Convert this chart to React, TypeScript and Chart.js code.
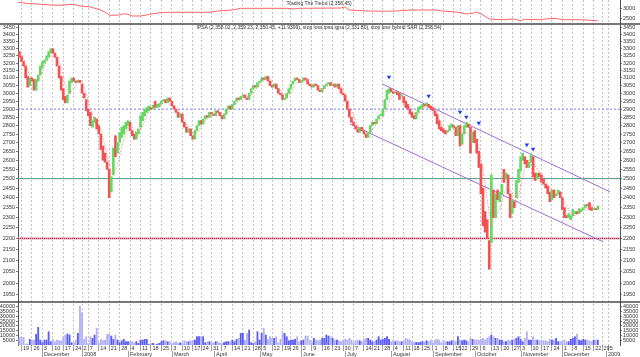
import React, { useEffect, useRef } from 'react';
import { Chart, registerables } from 'chart.js';
Chart.register(...registerables);

const FONT = '"Liberation Sans", Arial, sans-serif';

// ---- calendar (trading days) ----
const startDate = '2007-11-16';
const endDate = '2009-01-09';
const holidays = ['2007-12-25', '2007-12-31', '2008-01-01', '2008-03-21', '2008-05-01', '2008-05-21', '2008-07-16', '2008-08-15', '2008-09-18', '2008-09-19', '2008-10-31', '2008-12-25', '2008-12-31', '2009-01-01'];
const monthNames = ['January', 'February', 'March', 'April', 'May', 'June', 'July', 'August', 'September', 'October', 'November', 'December'];

// ---- price data (daily open / close) ----
const opens = [
  3280, 3250, 3210, 3180, 3110, 3050, 3100, 3090, 3020, 3080,
  3120, 3170, 3200, 3220, 3240, 3270, 3300, 3270, 3240, 3180,
  3110, 3030, 2980, 2940, 3000, 3070, 3100, 3080, 3070, 3085,
  3060, 3000, 2960, 2900, 2880, 2790, 2820, 2840, 2800, 2750,
  2680, 2640, 2590, 2550, 2430, 2520, 2740, 2640, 2700, 2730,
  2750, 2780, 2800, 2820, 2770, 2750, 2720, 2750, 2790, 2830,
  2860, 2880, 2890, 2910, 2900, 2950, 2910, 2915, 2935, 2950,
  2960, 2940, 2970, 2950, 2920, 2900, 2880, 2850, 2870, 2820,
  2790, 2760, 2780, 2740, 2720, 2770, 2800, 2830, 2810, 2840,
  2860, 2850, 2880, 2870, 2860, 2890, 2880, 2860, 2840, 2870,
  2900, 2920, 2900, 2930, 2950, 2970, 2960, 2980, 2990, 2970,
  2960, 3000, 3030, 3050, 3040, 3070, 3080, 3100, 3090, 3110,
  3080, 3050, 3040, 3060, 3030, 3000, 2990, 2960, 2970, 3000,
  3030, 3060, 3080, 3100, 3090, 3070, 3080, 3100, 3090, 3060,
  3050, 3040, 3060, 3050, 3020, 3010, 3030, 3050, 3060, 3070,
  3050, 3060, 3040, 3060, 3030, 3000, 2990, 2950, 2900, 2850,
  2820, 2800, 2780, 2760, 2790, 2770, 2750, 2730, 2760, 2800,
  2820, 2810, 2840, 2860, 2860, 2900, 2960, 3000, 3030, 3010,
  3000, 3010, 3000, 2980, 2980, 2950, 2930, 2900, 2880, 2860,
  2840, 2880, 2900, 2910, 2930, 2920, 2930, 2920, 2910, 2890,
  2870, 2830, 2790, 2780, 2770, 2760, 2770, 2790, 2800, 2790,
  2740, 2800, 2690, 2750, 2790, 2810, 2790, 2700, 2770, 2720,
  2650, 2580, 2450, 2330, 2290, 2190, 2180, 2440, 2300, 2440,
  2380, 2420, 2550, 2500, 2520, 2420, 2320, 2380, 2400, 2480,
  2540, 2600, 2620, 2600, 2560, 2590, 2620, 2530, 2500, 2530,
  2520, 2500, 2470, 2460, 2430, 2390, 2440, 2410, 2420, 2430,
  2400, 2350, 2310, 2300, 2290, 2310, 2320, 2330, 2320, 2330,
  2340, 2350, 2365, 2375, 2350, 2340, 2345, 2340
];
const closes = [
  3240, 3210, 3180, 3100, 3040, 3100, 3080, 3020, 3090, 3120,
  3180, 3210, 3220, 3250, 3280, 3300, 3270, 3240, 3180, 3100,
  3020, 2960, 2940, 2990, 3080, 3100, 3080, 3070, 3085, 3070,
  3000, 2970, 2890, 2860, 2800, 2830, 2850, 2780, 2750, 2660,
  2600, 2590, 2550, 2400, 2510, 2670, 2620, 2700, 2760, 2790,
  2800, 2820, 2830, 2770, 2740, 2720, 2760, 2780, 2860, 2880,
  2900, 2910, 2920, 2900, 2925, 2910, 2930, 2935, 2950, 2960,
  2940, 2970, 2950, 2920, 2900, 2880, 2850, 2870, 2820, 2790,
  2760, 2780, 2740, 2720, 2770, 2800, 2830, 2810, 2840, 2860,
  2850, 2880, 2870, 2860, 2890, 2880, 2860, 2840, 2870, 2900,
  2920, 2900, 2930, 2950, 2970, 2960, 2980, 2990, 2970, 2960,
  3000, 3030, 3050, 3040, 3070, 3080, 3100, 3090, 3110, 3080,
  3050, 3040, 3060, 3030, 3000, 2990, 2960, 2970, 3000, 3030,
  3060, 3080, 3100, 3090, 3070, 3080, 3100, 3090, 3060, 3050,
  3040, 3060, 3050, 3020, 3010, 3030, 3050, 3060, 3070, 3050,
  3060, 3040, 3060, 3030, 3000, 2990, 2950, 2900, 2850, 2820,
  2800, 2780, 2760, 2790, 2770, 2750, 2730, 2760, 2800, 2820,
  2810, 2840, 2860, 2870, 2900, 2960, 3020, 3030, 3010, 3000,
  3010, 2990, 2960, 2990, 2940, 2910, 2900, 2870, 2850, 2840,
  2880, 2910, 2920, 2930, 2920, 2940, 2910, 2900, 2890, 2860,
  2810, 2780, 2770, 2760, 2750, 2770, 2800, 2810, 2790, 2740,
  2800, 2680, 2750, 2800, 2820, 2790, 2640, 2760, 2700, 2640,
  2560, 2420, 2260, 2230, 2200, 2060, 2520, 2300, 2420, 2390,
  2430, 2470, 2480, 2530, 2420, 2300, 2390, 2350, 2490, 2550,
  2620, 2640, 2580, 2560, 2590, 2630, 2510, 2490, 2530, 2510,
  2480, 2470, 2450, 2420, 2380, 2440, 2400, 2420, 2440, 2400,
  2340, 2300, 2300, 2320, 2310, 2340, 2330, 2320, 2345, 2340,
  2350, 2365, 2360, 2340, 2335, 2345, 2340, 2358
];
const volumes = [
  8000, 8000, 8000, 1000, 1000, 5900, 5200, 5200, 11100, 18400,
  5200, 2400, 5200, 5200, 13900, 3500, 5900, 3500, 5200, 4500,
  4500, 8700, 10400, 11500, 10400, 2400, 2400, 5200, 12200, 40700,
  33700, 5900, 8700, 1700, 8700, 7000, 10400, 17400, 2400, 5900,
  4500, 5200, 11100, 11100, 9400, 5900, 10400, 5200, 2400, 4500,
  5900, 3500, 3500, 3500, 3500, 2400, 3500, 1700, 5200, 5200,
  5900, 5900, 500, 1700, 1700, 500, 1000, 1700, 3500, 4500,
  4500, 3500, 3500, 1700, 2400, 3500, 1700, 2400, 2400, 4500,
  3500, 3500, 4500, 4500, 5200, 8700, 8700, 8700, 8700, 2400,
  3500, 3500, 2400, 2400, 3500, 3500, 2400, 1700, 2400, 3500,
  3500, 3500, 5200, 3500, 5900, 7000, 12200, 12200, 5200, 12200,
  15700, 2400, 1700, 3500, 13900, 5200, 12200, 17400, 10400, 5900,
  8700, 7000, 7000, 8700, 2400, 5900, 13900, 12200, 8700, 4500,
  5200, 5200, 5900, 8700, 3500, 4500, 5200, 9400, 9400, 5200,
  3500, 7000, 5200, 4500, 5200, 7000, 7000, 10400, 9400, 8700,
  7000, 5200, 5200, 4500, 3500, 5200, 5900, 5200, 7000, 5200,
  2400, 4500, 5200, 4500, 3500, 5900, 7000, 7000, 5200, 3500,
  3500, 5200, 8700, 5200, 5900, 7000, 8700, 5900, 3500, 5200,
  3500, 4500, 3500, 3500, 4500, 7000, 5900, 5200, 3500, 2800,
  2800, 2400, 3100, 3500, 3500, 4500, 3500, 5200, 2400, 5200,
  5900, 5200, 2400, 5200, 3500, 3500, 3500, 4500, 5200, 3500,
  8700, 5200, 4500, 5200, 4500, 3500, 7000, 5900, 5200, 5200,
  5200, 5900, 7000, 5200, 7000, 8700, 10400, 8700, 7000, 7000,
  5200, 5200, 3500, 3500, 5200, 4500, 5200, 5900, 7000, 8700,
  5900, 3500, 7000, 13900, 5200, 5200, 8700, 5200, 5200, 4500,
  5200, 4500, 4500, 3500, 5900, 5200, 5200, 7000, 3500, 3500,
  4500, 5200, 3500, 3500, 5900, 7000, 8700, 11500, 5200, 4500,
  5900, 5200, 5200, 4500, 3500, 5200, 5200, 5200
];

// ---- "stop loss hybrid SAR" dotted trail, one value every 2nd trading day ----
const sarStep = 2;
const sarVals = [
  3260, 3230, 3150, 3080, 3060, 3110, 3180, 3230, 3270, 3250,
  3170, 3050, 2990, 3030, 3080, 3070, 3000, 2900, 2840, 2810,
  2730, 2630, 2530, 2540, 2620, 2720, 2790, 2790, 2760, 2770,
  2830, 2890, 2910, 2920, 2930, 2950, 2950, 2930, 2890, 2860,
  2810, 2770, 2750, 2770, 2820, 2840, 2860, 2870, 2870, 2860,
  2880, 2910, 2940, 2960, 2980, 2980, 3000, 3040, 3070, 3090,
  3090, 3060, 3040, 3000, 2980, 3000, 3050, 3080, 3080, 3080,
  3060, 3050, 3030, 3030, 3050, 3060, 3050, 3040, 2990, 2920,
  2860, 2800, 2780, 2760, 2760, 2790, 2830, 2850, 2910, 2980,
  3010, 3000, 2980, 2930, 2890, 2860, 2880, 2910, 2920, 2910,
  2870, 2810, 2770, 2770, 2790, 2780, 2760, 2760, 2750, 2720,
  2680, 2550, 2390, 2260, 2300, 2340, 2420, 2460, 2420, 2380,
  2450, 2560, 2600, 2590, 2550, 2510, 2480, 2450, 2420, 2420,
  2400, 2360, 2320, 2310, 2325, 2335, 2350, 2355, 2350
];

// ---- "Trading The Trend" indicator (index, value) ----
const trendIdx = [-1, 4, 10, 15, 19, 26, 29, 34, 39, 42, 43, 48, 50, 52, 54, 58, 61, 64, 67, 72, 91, 95, 102, 106, 128, 131, 134, 154, 156, 158, 166, 175, 180, 187, 200, 201, 209, 211, 214, 217, 219, 222, 225, 230, 237, 240, 242, 249, 256, 261, 268, 277];
const trendVals = [3300, 3231, 3192, 3159, 3144, 3192, 3111, 3063, 2918, 2760, 2663, 2678, 2740, 2712, 2630, 2630, 2678, 2740, 2788, 2808, 2808, 2870, 2918, 3000, 3000, 2966, 3000, 3014, 3063, 2918, 2870, 2856, 2870, 2918, 2918, 2885, 2822, 2788, 2726, 2760, 2822, 2678, 2486, 2452, 2486, 2404, 2471, 2452, 2519, 2452, 2452, 2404];

// ---- signal arrows ----
const arrowIdx = [177, 196, 211, 214, 220, 243, 246];
const arrowVals = [3107, 2983, 2883, 2852, 2815, 2687, 2664];

// ---- channel lines ----
const upperChannelIdx = [173.7, 282.9];
const upperChannelVals = [3061, 2430];
const lowerChannelIdx = [158.3, 279.5];
const lowerChannelVals = [2810, 2184];

// ---- tick labels ----
const priceTicks = [1950, 2000, 2050, 2100, 2150, 2200, 2250, 2300, 2350, 2400, 2450, 2500, 2550, 2600, 2650, 2700, 2750, 2800, 2850, 2900, 2950, 3000, 3050, 3100, 3150, 3200, 3250, 3300, 3350, 3400, 3450];
const volumeTicks = [5000, 10000, 15000, 20000, 25000, 30000, 35000, 40000];
const trendTicks = [2500, 3000];

const topTitle = 'Trading The Trend (2,358.45)';
const mainTitle = 'IPSA (2,358.02, 2,359.23, 2,350.45, +11.9399), stop loss ipsa igpa (2,331.80), stop loss hybrid SAR (2,358.54)';

function buildCalendar() {
  const hol = new Set(holidays);
  const days: Date[] = [];
  const d = new Date(startDate + 'T00:00:00Z');
  const end = new Date(endDate + 'T00:00:00Z');
  while (d <= end) {
    const wd = d.getUTCDay();
    const key = d.toISOString().slice(0, 10);
    if (wd !== 0 && wd !== 6 && !hol.has(key)) days.push(new Date(d));
    d.setUTCDate(d.getUTCDate() + 1);
  }
  return days;
}

export default function App() {
  const ref = useRef<HTMLCanvasElement>(null);
  useEffect(() => {
    document.body.style.margin = '0';
    const days = buildCalendar();
    const weekTicks: number[] = [];
    const weekLabel = new Map<number, string>();
    const monthTicks: number[] = [];
    const monthLabel = new Map<number, string>();
    let prevWeek = -1;
    let prevMonth = days[0].getUTCMonth();
    days.forEach((d, i) => {
      const monday = Math.floor(d.getTime() / 86400000 - ((d.getUTCDay() + 6) % 7));
      if (i > 0 && monday !== prevWeek) {
        weekTicks.push(i);
        weekLabel.set(i, String(d.getUTCDate()));
      }
      prevWeek = monday;
      const m = d.getUTCMonth();
      if (i > 0 && m !== prevMonth) {
        monthTicks.push(i);
        monthLabel.set(i, m === 0 ? String(d.getUTCFullYear()) : monthNames[m]);
      }
      prevMonth = m;
    });

    const X_MIN = -0.67;
    const X_MAX = 287.6;
    const tickFont = { family: FONT, size: 5.5 };

    const yAxis = (pos: 'left' | 'right', stackWeight: number, weight: number, extra: any) => ({
      position: pos,
      stack: pos === 'left' ? 'L' : 'R',
      stackWeight,
      weight,
      bounds: 'data',
      border: { display: true, color: '#505050', width: 1 },
      grid: { drawOnChartArea: false, drawTicks: true, tickLength: 2, color: '#808080' },
      ticks: { font: tickFont, color: '#333', padding: 1, autoSkip: false, maxRotation: 0, callback: (v: any) => String(v) },
      afterFit: (s: any) => { s.width = pos === 'left' ? 18 : 20; s.paddingTop = 0; s.paddingBottom = 0; },
      ...extra,
    });

    const mainRange = { type: 'logarithmic', min: 1920.5, max: 3479, afterBuildTicks: (s: any) => { s.ticks = priceTicks.map((v) => ({ value: v })); } };
    const topRange = { type: 'linear', min: 2245, max: 3399, afterBuildTicks: (s: any) => { s.ticks = trendTicks.map((v) => ({ value: v })); } };
    const volRange = { type: 'linear', min: 0, max: 44900, afterBuildTicks: (s: any) => { s.ticks = volumeTicks.map((v) => ({ value: v })); } };

    const candleData = opens.map((o, i) => ({ x: i, y: [o, closes[i]] }));
    const candleColors = opens.map((o, i) => (closes[i] >= o ? '#62da62' : '#f45252'));
    const volData = volumes.map((v, i) => ({ x: i, y: v }));
    const volColors = opens.map((o, i) => (closes[i] >= o ? '#5c5cf4' : '#b2b2f2'));
    const sarData = sarVals.map((v, k) => ({ x: k * sarStep, y: v }));
    const hline = (v: number) => [{ x: X_MIN, y: v }, { x: X_MAX, y: v }];

    const panelPlugin = {
      id: 'panels',
      afterDraw(chart: any) {
        const { ctx, chartArea, scales } = chart;
        ctx.save();
        ctx.strokeStyle = '#4a4a4a';
        ctx.lineWidth = 1.5;
        [scales.yTopR.bottom, scales.yMainR.bottom].forEach((y: number) => {
          ctx.beginPath();
          ctx.moveTo(0, y);
          ctx.lineTo(chart.width, y);
          ctx.stroke();
        });
        // month row under the weekly labels
        const xs = scales.x;
        const rowTop = xs.top + 6;
        ctx.strokeStyle = '#a0a0a0';
        ctx.lineWidth = 1;
        ctx.fillStyle = '#333';
        ctx.font = '5.5px ' + FONT;
        ctx.textAlign = 'left';
        ctx.textBaseline = 'top';
        monthTicks.forEach((i) => {
          const px = Math.round(xs.getPixelForValue(i)) + 0.5;
          ctx.beginPath();
          ctx.moveTo(px, rowTop);
          ctx.lineTo(px, chart.height);
          ctx.stroke();
          ctx.fillText(monthLabel.get(i) || '', px + 1.5, rowTop + 0.5);
        });
        // panel captions
        ctx.fillStyle = '#303030';
        ctx.font = '5px ' + FONT;
        ctx.textAlign = 'center';
        ctx.textBaseline = 'middle';
        const cx = (chartArea.left + chartArea.right) / 2;
        ctx.fillText(topTitle, cx, scales.yTopR.top + 4);
        ctx.fillText(mainTitle, cx, scales.yMainR.top + 3.5);
        ctx.restore();
      },
    };

    const chart = new Chart(ref.current!, {
      type: 'bar',
      data: {
        datasets: [
          { type: 'bar', label: 'IPSA', data: candleData as any, xAxisID: 'x', yAxisID: 'yMainR', backgroundColor: candleColors, barThickness: 2, grouped: false, order: 1 },
          { type: 'bar', label: 'Volume', data: volData as any, xAxisID: 'x', yAxisID: 'yVolR', backgroundColor: volColors, barThickness: 1.2, grouped: false, order: 6 },
          { type: 'line', label: 'Trend', data: trendIdx.map((x, i) => ({ x, y: trendVals[i] })) as any, xAxisID: 'x', yAxisID: 'yTopR', borderColor: '#ff6464', borderWidth: 1, pointRadius: 0, order: 2 },
          { type: 'line', label: 'SAR', data: sarData as any, xAxisID: 'x', yAxisID: 'yMainR', borderColor: '#ff7a7a', borderWidth: 1, borderDash: [1, 1.5], pointRadius: 0, order: 0 },
          { type: 'line', label: 'L2900', data: hline(2900) as any, xAxisID: 'x', yAxisID: 'yMainR', borderColor: '#7878ff', borderWidth: 1, borderDash: [2, 2], pointRadius: 0, order: 4 },
          { type: 'line', label: 'L2500', data: hline(2500) as any, xAxisID: 'x', yAxisID: 'yMainR', borderColor: '#4e9a86', borderWidth: 1, pointRadius: 0, order: 4 },
          { type: 'line', label: 'L2200', data: hline(2200) as any, xAxisID: 'x', yAxisID: 'yMainR', borderColor: '#ff9a9a', borderWidth: 2, pointRadius: 0, order: 5 },
          { type: 'line', label: 'L2200b', data: hline(2200) as any, xAxisID: 'x', yAxisID: 'yMainR', borderColor: '#6a2a90', borderWidth: 1, borderDash: [1, 1], pointRadius: 0, order: 4 },
          { type: 'line', label: 'Upper', data: upperChannelIdx.map((x, i) => ({ x, y: upperChannelVals[i] })) as any, xAxisID: 'x', yAxisID: 'yMainR', borderColor: '#9c70d8', borderWidth: 1, pointRadius: 0, order: 3 },
          { type: 'line', label: 'Lower', data: lowerChannelIdx.map((x, i) => ({ x, y: lowerChannelVals[i] })) as any, xAxisID: 'x', yAxisID: 'yMainR', borderColor: '#9c70d8', borderWidth: 1, pointRadius: 0, order: 3 },
          { type: 'scatter', label: 'Signals', data: arrowIdx.map((x, i) => ({ x, y: arrowVals[i] })) as any, xAxisID: 'x', yAxisID: 'yMainR', pointStyle: 'triangle', rotation: 180, radius: 2.5, backgroundColor: '#1e3cff', borderColor: '#1e3cff', borderWidth: 0, order: -1 },
        ],
      },
      options: {
        responsive: false,
        animation: false,
        devicePixelRatio: 1,
        events: [],
        layout: { padding: 0, autoPadding: false },
        plugins: { legend: { display: false }, tooltip: { enabled: false }, title: { display: false } },
        scales: {
          x: {
            type: 'linear', position: 'bottom', min: X_MIN, max: X_MAX, bounds: 'data', offset: false, weight: 0,
            afterBuildTicks: (s: any) => { s.ticks = weekTicks.map((v) => ({ value: v })); },
            ticks: { autoSkip: false, maxRotation: 0, minRotation: 0, align: 'start', font: tickFont, color: '#333', padding: -6, labelOffset: 1.5, callback: (v: any) => weekLabel.get(v) ?? '' },
            grid: { color: '#c4c4c4', lineWidth: 1, offset: false, drawOnChartArea: true, drawTicks: true, tickLength: 6, tickColor: '#a0a0a0', tickBorderDash: [] },
            border: { display: false, dash: [2, 2] },
            afterFit: (s: any) => { s.height = 12; s.paddingLeft = 0; s.paddingRight = 0; },
          },
          yTopR: yAxis('right', 24, 0, topRange),
          yMainR: yAxis('right', 278, 1, mainRange),
          yVolR: yAxis('right', 43, 2, volRange),
          yTopL: yAxis('left', 24, 2, { ...topRange, ticks: { display: false }, border: { display: false }, grid: { display: false } }),
          yMainL: yAxis('left', 278, 1, mainRange),
          yVolL: yAxis('left', 43, 0, volRange),
        } as any,
      },
      plugins: [panelPlugin],
    } as any);
    return () => chart.destroy();
  }, []);
  return (
    <div style={{ width: 640, height: 357 }}>
      <canvas ref={ref} width={640} height={357} style={{ display: 'block' }} />
    </div>
  );
}
